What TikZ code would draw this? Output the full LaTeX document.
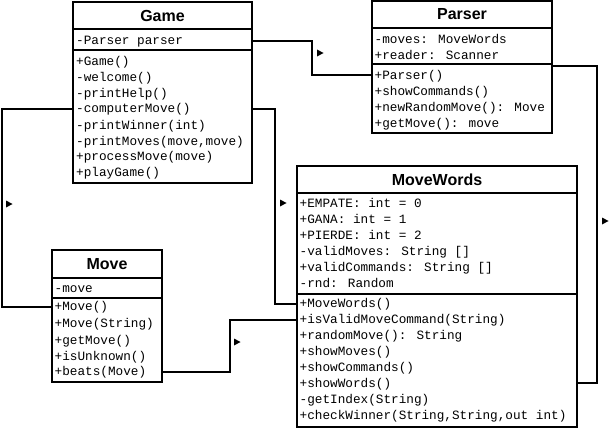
\documentclass[tikz,border=0pt]{standalone}
\usepackage{fontspec}
\setmainfont{Liberation Sans}
\newfontfamily\memfont{Liberation Mono}
\usetikzlibrary{calc}
\tikzset{
  classbox/.style={draw, line width=2pt, anchor=north west, inner sep=0pt, outer sep=0pt},
  sepline/.style={line width=2pt},
  mem/.style={anchor=west, inner sep=0pt, text height=8.5pt, text depth=1.5pt, font=\memfont\fontsize{12.7}{14}\selectfont},
  ttl/.style={inner sep=0pt, font=\bfseries\fontsize{16}{18}\selectfont},
  conn/.style={line width=2pt},
  navmark/.style={fill=black}
}
\begin{document}
\begin{tikzpicture}[x=1pt,y=-1pt]
\useasboundingbox (0,0) rectangle (612,428);
% ---------- Game ----------
\node[classbox, minimum width=179pt, minimum height=181pt] (Game) at (73,2) {};
\node[ttl] (GameT) at (162.5,15.5) {Game};
\draw[sepline] (Game.west |- 0,29) -- (Game.east |- 0,29);
\draw[sepline] (Game.west |- 0,50) -- (Game.east |- 0,50);
\node[mem] (ga) at (76,41) {-Parser parser};
\node[mem] (g1) at (76,62) {+Game()};
\node[mem] (g2) at (76,77.9) {-welcome()};
\node[mem] (g3) at (76,93.8) {-printHelp()};
\node[mem] (g4) at (76,109) {-computerMove()};
\node[mem] (g5) at (76,125.6) {-printWinner(int)};
\node[mem] (g6) at (76,141.5) {-printMoves(move,move)};
\node[mem] (g7) at (76,157.4) {+processMove(move)};
\node[mem] (g8) at (76,173.3) {+playGame()};
% ---------- Parser ----------
\node[classbox, minimum width=180pt, minimum height=132pt] (Parser) at (372,1) {};
\node[ttl] (ParserT) at (462,14.5) {Parser};
\draw[sepline] (Parser.west |- 0,28) -- (Parser.east |- 0,28);
\draw[sepline] (Parser.west |- 0,64) -- (Parser.east |- 0,64);
\node[mem] (pa1) at (374.5,40) {-moves: MoveWords};
\node[mem] (pa2) at (374.5,56) {+reader: Scanner};
\node[mem] (p1) at (374.5,76) {+Parser()};
\node[mem] (p2) at (374.5,92.3) {+showCommands()};
\node[mem] (p3) at (374.5,108.2) {+newRandomMove(): Move};
\node[mem] (p4) at (374.5,124) {+getMove(): move};
% ---------- MoveWords ----------
\node[classbox, minimum width=280pt, minimum height=261pt] (MW) at (297,166) {};
\node[ttl] (MWT) at (437,179.5) {MoveWords};
\draw[sepline] (MW.west |- 0,193) -- (MW.east |- 0,193);
\draw[sepline] (MW.west |- 0,294) -- (MW.east |- 0,294);
\node[mem] (wa1) at (299.5,204) {+EMPATE: int = 0};
\node[mem] (wa2) at (299.5,220) {+GANA: int = 1};
\node[mem] (wa3) at (299.5,236) {+PIERDE: int = 2};
\node[mem] (wa4) at (299.5,252) {-validMoves: String []};
\node[mem] (wa5) at (299.5,268) {+validCommands: String []};
\node[mem] (wa6) at (299.5,284) {-rnd: Random};
\node[mem] (w1) at (299.5,304) {+MoveWords()};
\node[mem] (w2) at (299.5,320) {+isValidMoveCommand(String)};
\node[mem] (w3) at (299.5,336) {+randomMove(): String};
\node[mem] (w4) at (299.5,352) {+showMoves()};
\node[mem] (w5) at (299.5,368) {+showCommands()};
\node[mem] (w6) at (299.5,384) {+showWords()};
\node[mem] (w7) at (299.5,400) {-getIndex(String)};
\node[mem] (w8) at (299.5,416) {+checkWinner(String,String,out int)};
% ---------- Move ----------
\node[classbox, minimum width=110pt, minimum height=132pt] (Move) at (52,250) {};
\node[ttl] (MoveT) at (107,264) {Move};
\draw[sepline] (Move.west |- 0,278) -- (Move.east |- 0,278);
\draw[sepline] (Move.west |- 0,298) -- (Move.east |- 0,298);
\node[mem] (ma) at (54.5,289) {-move};
\node[mem] (m1) at (54.5,307) {+Move()};
\node[mem] (m2) at (54.5,324) {+Move(String)};
\node[mem] (m3) at (54.5,340.5) {+getMove()};
\node[mem] (m4) at (54.5,356.5) {+isUnknown()};
\node[mem] (m5) at (54.5,372) {+beats(Move)};
% ---------- connectors ----------
\coordinate (xL) at (2,0);
\coordinate (xR1) at (275,0);
\coordinate (xR2) at (312,0);
\coordinate (xR3) at (597,0);
\coordinate (xR4) at (230,0);
\coordinate (PE) at ([yshift=-65pt]Parser.north east);
\draw[conn] (Game.west |- g4) -- (xL |- g4) |- (Move.west |- m1);
\draw[conn] (Game.east |- g4) -- (xR1 |- g4) |- (MW.west |- w1);
\draw[conn] (Game.east |- ga) -- (xR2 |- ga) |- ([yshift=1pt]Parser.west |- p1);
\draw[conn] (PE) -- (xR3 |- PE) |- ([yshift=1pt]MW.east |- w6);
\draw[conn] (Move.east |- m5) -- (xR4 |- m5) |- (MW.west |- w2);
% ---------- navigability markers ----------
\fill[navmark] (6,200.5) -- (12.5,204) -- (6,207.5) -- cycle;
\fill[navmark] (280,199.5) -- (286.5,203) -- (280,206.5) -- cycle;
\fill[navmark] (317,49.5) -- (323.5,53) -- (317,56.5) -- cycle;
\fill[navmark] (602,217.5) -- (608.5,221) -- (602,224.5) -- cycle;
\fill[navmark] (234,338.5) -- (240.5,342) -- (234,345.5) -- cycle;
\end{tikzpicture}
\end{document}
